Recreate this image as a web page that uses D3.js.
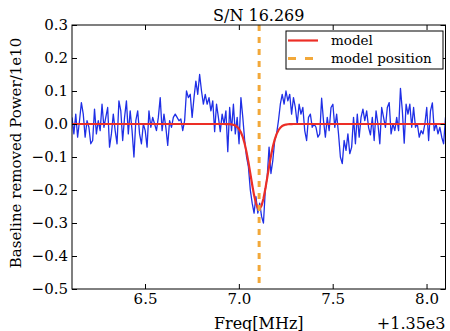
<!DOCTYPE html>
<html>
<head>
<meta charset="utf-8">
<script src="https://cdn.jsdelivr.net/npm/d3@7"></script>
<style>
  html, body { margin: 0; padding: 0; background: #fff; }
  svg { display: block; }
  text { font-family: "DejaVu Serif", serif; fill: #000; }
</style>
</head>
<body>
<svg id="chart" width="450" height="331"></svg>
<script>
// Spectrum around the line: frequencies are offsets from 1350 MHz, one value per channel.
const freqOffset = 1350;            // shown as "+1.35e3"
const freqStart = 6.111;            // first channel (MHz, after offset)
const channelWidth = 0.01;          // MHz per channel

// Baseline-removed power (units of 1e10), channel by channel
const power = [
   0.02, -0.03,  0.03, -0.04,  0.01,  0.065, 0.03, -0.04,  0.01, -0.01,
  -0.06, -0.05,  0.045,-0.03,  0.01, -0.02,  0.06, -0.01,  0.02,  0.05,
  -0.07, -0.03,  0.03, -0.02, -0.06,  0.07,  0.04, -0.05,  0.02,  0.07,
  -0.03,  0.04, -0.02, -0.10,  0.01,  0.04, -0.03, -0.06,  0.00, -0.02,
  -0.07,  0.04, -0.01,  0.02,  0.00, -0.02,  0.02,  0.08, -0.02,  0.03,
  -0.01, -0.065, 0.01, -0.01,  0.02,  0.03,  0.02,  0.01,  0.015,-0.02,
   0.01,  0.10,  0.08,  0.09,  0.02,  0.08,  0.13,  0.09,  0.15,  0.10,
   0.06,  0.09,  0.06,  0.08,  0.04,  0.07, -0.023, 0.06,  0.02, -0.023,
   0.03,  0.00,  0.04, -0.084, 0.05, -0.02,  0.06, -0.03,  0.02, -0.06,
   0.08,  0.02, -0.05, -0.10, -0.13, -0.20, -0.24, -0.27, -0.22, -0.27,
  -0.24, -0.28, -0.30, -0.20, -0.16, -0.07, -0.15, -0.11, -0.05, -0.03,
   0.01,  0.06,  0.09,  0.06,  0.10,  0.07,  0.09,  0.03,  0.08,  0.05,
   0.00,  0.06,  0.03,  0.05, -0.02, -0.05,  0.02,  0.03, -0.01,  0.00,
  -0.01, -0.04, -0.03,  0.078, 0.01, -0.04,  0.02, -0.02,  0.05,  0.06,
  -0.01,  0.03, -0.03, -0.10, -0.12, -0.05, -0.08, -0.03, -0.09, -0.07,
   0.02, -0.06,  0.03, -0.04,  0.02,  0.045, 0.01,  0.04, -0.01, -0.033,
   0.02, -0.05,  0.04,  0.00, -0.06,  0.05,  0.02, -0.01,  0.05,  0.065,
  -0.03,  0.00, -0.02,  0.02, -0.02,  0.108, 0.04, -0.058, 0.06,  0.03,
   0.06, -0.01,  0.05, -0.01,  0.00, -0.04, -0.02, -0.03,  0.00,  0.05,
  -0.05,  0.04,  0.064,-0.02,  0.00, -0.03, -0.01, -0.04, -0.06,  0.02
];

// Fitted Gaussian absorption model
const modelAmplitude = -0.258;
const modelCenter = 7.108;
const modelSigma = 0.045;

const signalToNoise = "16.269";

const xTicks = [6.5, 7.0, 7.5, 8.0];
const yTicks = [-0.5, -0.4, -0.3, -0.2, -0.1, 0.0, 0.1, 0.2, 0.3];

const freq = power.map((_, i) => freqStart + i * channelWidth);
const model = freq.map(f => modelAmplitude * Math.exp(-0.5 * ((f - modelCenter) / modelSigma) ** 2));

const svg = d3.select("#chart");
const plot = { left: 72, right: 445.5, top: 25, bottom: 289 };

const x = d3.scaleLinear().domain(d3.extent(freq)).range([plot.left, plot.right]);
const y = d3.scaleLinear().domain([-0.5, 0.3]).range([plot.bottom, plot.top]);

svg.append("defs").append("clipPath").attr("id", "clip")
  .append("rect")
  .attr("x", plot.left).attr("y", plot.top)
  .attr("width", plot.right - plot.left).attr("height", plot.bottom - plot.top);

const layer = svg.append("g").attr("clip-path", "url(#clip)");

// Measured spectrum
layer.append("path")
  .datum(power)
  .attr("fill", "none")
  .attr("stroke", "#1f2fe6")
  .attr("stroke-width", 1.3)
  .attr("stroke-linejoin", "round")
  .attr("d", d3.line().x((d, i) => x(freq[i])).y(d => y(d)));

// Model
layer.append("path")
  .datum(model)
  .attr("fill", "none")
  .attr("stroke", "#ec2e26")
  .attr("stroke-width", 2.2)
  .attr("d", d3.line().x((d, i) => x(freq[i])).y(d => y(d)));

// Model position
layer.append("line")
  .attr("x1", x(modelCenter)).attr("x2", x(modelCenter))
  .attr("y1", plot.top).attr("y2", plot.bottom)
  .attr("stroke", "#f2a83a")
  .attr("stroke-width", 3)
  .attr("stroke-dasharray", "6,6");

// Axes with inward ticks on all four sides
const fmt = d3.format(".1f");
const tickStyle = g => {
  g.select(".domain").remove();
  g.selectAll(".tick line").attr("stroke", "#000").attr("stroke-width", 1);
  g.selectAll(".tick text").attr("font-size", 15).attr("font-family", "DejaVu Serif");
};

svg.append("g").attr("transform", `translate(0,${plot.bottom})`)
  .call(d3.axisBottom(x).tickValues(xTicks).tickFormat(fmt).tickSizeInner(-5).tickSizeOuter(0).tickPadding(4))
  .call(tickStyle);
svg.append("g").attr("transform", `translate(0,${plot.top})`)
  .call(d3.axisTop(x).tickValues(xTicks).tickFormat("").tickSizeInner(-5).tickSizeOuter(0))
  .call(tickStyle);
svg.append("g").attr("transform", `translate(${plot.left},0)`)
  .call(d3.axisLeft(y).tickValues(yTicks).tickFormat(fmt).tickSizeInner(-5).tickSizeOuter(0).tickPadding(4))
  .call(tickStyle);
svg.append("g").attr("transform", `translate(${plot.right},0)`)
  .call(d3.axisRight(y).tickValues(yTicks).tickFormat("").tickSizeInner(-5).tickSizeOuter(0))
  .call(tickStyle);

// Frame
svg.append("rect")
  .attr("x", plot.left).attr("y", plot.top)
  .attr("width", plot.right - plot.left).attr("height", plot.bottom - plot.top)
  .attr("fill", "none").attr("stroke", "#000").attr("stroke-width", 1);

// Title and axis labels
const midX = (plot.left + plot.right) / 2;
svg.append("text").attr("x", midX).attr("y", 20.5)
  .attr("text-anchor", "middle").attr("font-size", 16)
  .text("S/N " + signalToNoise);

svg.append("text").attr("x", midX).attr("y", 328.5)
  .attr("text-anchor", "middle").attr("font-size", 16)
  .text("Freq[MHz]");

svg.append("text").attr("x", plot.right).attr("y", 328.5)
  .attr("text-anchor", "end").attr("font-size", 16)
  .text("+" + d3.format(".2e")(freqOffset).replace("e+", "e"));

svg.append("text")
  .attr("transform", `translate(21,${(plot.top + plot.bottom) / 2 - 4}) rotate(-90)`)
  .attr("text-anchor", "middle").attr("font-size", 15)
  .text("Baseline removed Power/1e10");

// Legend
const legend = svg.append("g");
legend.append("rect")
  .attr("x", 286).attr("y", 31).attr("width", 157).attr("height", 38)
  .attr("fill", "#fff").attr("stroke", "#000").attr("stroke-width", 1);
const entries = [
  { label: "model", color: "#ec2e26", width: 2.2, dash: null, y: 40.5 },
  { label: "model position", color: "#f2a83a", width: 3, dash: "8,9", y: 58.5 }
];
entries.forEach(e => {
  legend.append("line")
    .attr("x1", 288).attr("x2", 318).attr("y1", e.y).attr("y2", e.y)
    .attr("stroke", e.color).attr("stroke-width", e.width)
    .attr("stroke-dasharray", e.dash);
  legend.append("text")
    .attr("x", 331).attr("y", e.y).attr("dy", "0.35em")
    .attr("font-size", 13.5)
    .text(e.label);
});
</script>
</body>
</html>
